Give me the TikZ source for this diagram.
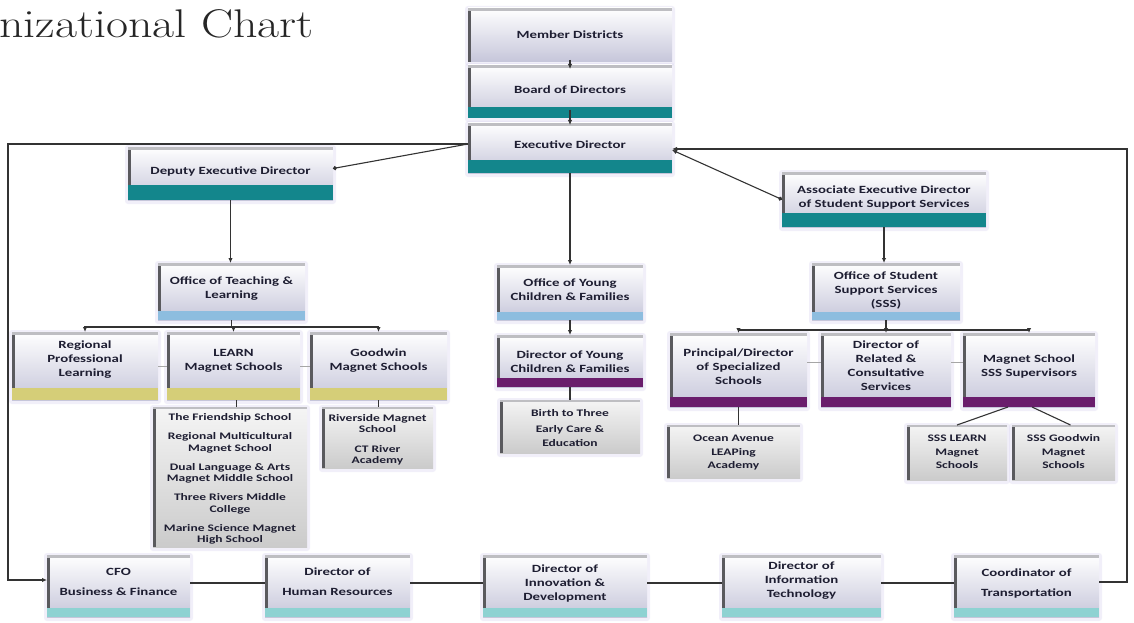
\documentclass[tikz,border=0pt]{standalone}
\usepackage{fontspec}
\usepackage{graphicx}
\usetikzlibrary{arrows.meta,calc}
\newfontfamily\bx{Carlito}[FakeStretch=1.35]
\definecolor{tealbar}{HTML}{13868C}
\definecolor{bluebar}{HTML}{8DBDDF}
\definecolor{yelbar}{HTML}{D5CE78}
\definecolor{purbar}{HTML}{6A1D6C}
\definecolor{ltteal}{HTML}{8ED2D2}
\definecolor{lavgray}{HTML}{C6C6DA}
\definecolor{edgedark}{HTML}{5A5A5E}
\definecolor{edgetop}{HTML}{BEBEC2}
\definecolor{txtcol}{HTML}{1E1E32}
\definecolor{linecol}{HTML}{333333}
\definecolor{glowcol}{HTML}{D8D4F0}
\definecolor{listbot}{HTML}{CBCBCB}
\tikzset{
 obox/.style={inner sep=0pt, outer sep=0pt, top color=white, middle color=white!75!lavgray, bottom color=lavgray},
 lbox/.style={inner sep=0pt, outer sep=0pt, top color=white!96!black, bottom color=listbot},
 otext/.style={font=\bx\bfseries\fontsize{11}{14}\selectfont, align=center, text=txtcol, inner sep=0pt},
 ltext/.style={font=\bx\bfseries\fontsize{10}{11.5}\selectfont, align=center, text=txtcol, inner sep=0pt},
 ltextb/.style={font=\bx\bfseries\fontsize{10}{13.5}\selectfont, align=center, text=txtcol, inner sep=0pt},
 glow/.style={fill=glowcol, opacity=0.35, rounded corners=3pt},
 conn/.style={draw=linecol, line width=1.1pt},
 arr/.style={conn, -{Latex[length=5pt,width=4.5pt]}},
 stub/.style={draw=gray!70, line width=0.8pt},
}
% name, x1, y1, x2, y2, bar colour, bar height, text y, text
\newcommand\orgbox[9]{%
  \fill[glow] ({#2-3},{#3-2}) rectangle ({#4+3},{#5+4});
  \node[obox, minimum width={(#4)-(#2)}, minimum height={(#5)-(#3)}] (#1) at ({((#2)+(#4))/2},{((#3)+(#5))/2}) {};
  \fill[edgedark] (#1.north west) rectangle ([xshift=3pt]#1.south west);
  \fill[edgetop] (#1.north west) rectangle ([yshift=-3pt]#1.north east);
  \fill[#6] (#1.south west) rectangle ([yshift=#7pt]#1.south east);
  \node[otext] (#1-t) at ({((#2)+(#4))/2},#8) {#9};
}
% name, x1, y1, x2, y2, text style, text y, text
\newcommand\listbox[8]{%
  \fill[glow] ({#2-3},{#3-2}) rectangle ({#4+3},{#5+4});
  \node[lbox, minimum width={(#4)-(#2)}, minimum height={(#5)-(#3)}] (#1) at ({((#2)+(#4))/2},{((#3)+(#5))/2}) {};
  \fill[edgedark] (#1.north west) rectangle ([xshift=3pt]#1.south west);
  \fill[edgetop] (#1.north west) rectangle ([yshift=-2pt]#1.north east);
  \node[#6] (#1-t) at ({((#2)+(#4))/2},#7) {#8};
}
\begin{document}
\begin{tikzpicture}[x=1pt,y=-1pt]
\useasboundingbox (0,0) rectangle (1134,623);
\fill[white] (0,0) rectangle (1134,623);

\node[anchor=base west, inner sep=0pt, font=\fontsize{40}{44}\selectfont, text=black!85] (title) at (-1,38) {\scalebox{1.2}[1]{nizational Chart}};

\orgbox{md}{468}{8}{672}{62}{white}{0}{35}{Member Districts}
\orgbox{bod}{468}{65}{672}{118}{tealbar}{11}{90}{Board of Directors}
\orgbox{ed}{468}{123}{672}{173}{tealbar}{13}{145}{Executive Director}
\orgbox{dep}{128}{147}{333}{200}{tealbar}{15}{171}{Deputy Executive Director}
\orgbox{assoc}{782}{172}{986}{227}{tealbar}{14}{197}{Associate Executive Director\\of Student Support Services}
\orgbox{otl}{158}{263}{305}{320}{bluebar}{9}{289}{Office of Teaching \&\\Learning}
\orgbox{oyc}{497}{265}{643}{320}{bluebar}{8}{290}{Office of Young\\Children \& Families}
\orgbox{osss}{812}{263}{960}{320}{bluebar}{8}{290}{Office of Student\\Support Services\\(SSS)}
\orgbox{rpl}{12}{332}{158}{400}{yelbar}{12}{360}{Regional\\Professional\\Learning}
\orgbox{learn}{167}{332}{300}{400}{yelbar}{12}{361}{LEARN\\Magnet Schools}
\orgbox{gw}{310}{332}{447}{400}{yelbar}{12}{361}{Goodwin\\Magnet Schools}
\orgbox{dyc}{497}{335}{643}{387}{purbar}{9}{362}{Director of Young\\Children \& Families}
\orgbox{pds}{670}{333}{807}{407}{purbar}{10}{367}{Principal/Director\\of Specialized\\Schools}
\orgbox{rcs}{821}{333}{951}{407}{purbar}{10}{366}{Director of\\Related \&\\Consultative\\Services}
\orgbox{mss}{963}{333}{1095}{407}{purbar}{10}{367}{Magnet School\\SSS Supervisors}

\listbox{llist}{153}{407}{307}{547}{ltext}{479}{The Friendship School\\[7.5pt]Regional Multicultural\\Magnet School\\[7.5pt]Dual Language \& Arts\\Magnet Middle School\\[7.5pt]Three Rivers Middle\\College\\[7.5pt]Marine Science Magnet\\High School}
\listbox{glist}{322}{407}{433}{468}{ltext}{440}{Riverside Magnet\\School\\[8pt]CT River\\Academy}
\listbox{b3}{500}{400}{640}{453}{ltextb}{428}{Birth to Three\\[3pt]Early Care \&\\Education}
\listbox{oa}{667}{425}{800}{478}{ltextb}{453}{Ocean Avenue\\LEAPing\\Academy}
\listbox{sl}{907}{425}{1007}{480}{ltextb}{452}{SSS LEARN\\Magnet\\Schools}
\listbox{sg}{1012}{425}{1115}{480}{ltextb}{452}{SSS Goodwin\\Magnet\\Schools}

\orgbox{cfo}{47}{555}{190}{617}{ltteal}{9}{582}{CFO\\[6pt]Business \& Finance}
\orgbox{hr}{265}{555}{410}{617}{ltteal}{9}{582}{Director of\\[6pt]Human Resources}
\orgbox{idv}{483}{555}{647}{617}{ltteal}{9}{583}{Director of\\Innovation \&\\Development}
\orgbox{it}{722}{555}{881}{617}{ltteal}{9}{581}{Director of\\Information\\Technology}
\orgbox{tr}{954}{555}{1099}{617}{ltteal}{9}{583}{Coordinator of\\[6pt]Transportation}

% connectors
\coordinate (lcorner) at (8,580);
\coordinate (rcorner) at (1127,582);
\coordinate (tb) at (231.5,327);
\coordinate (sb) at (886,330);

\draw[arr] ([yshift=2pt]md.south) -- ([yshift=-4pt]bod.north);
\draw[arr] ([yshift=8pt]bod.south) -- ([yshift=-2pt]ed.north);
\draw[arr] (ed.south) -- (oyc.north);
\draw[conn,-{Circle[length=4pt]}] ([yshift=4pt]ed.west) -- ([yshift=5pt]dep.east);
\draw[arr] ([yshift=4pt]ed.west) -| (lcorner) -- ([yshift=6pt]cfo.west);
\draw[arr] ([yshift=4pt]tr.east) -- (rcorner) |- ([yshift=-1pt]ed.east);
\draw[conn,{Circle[length=4pt]}-{Latex[length=5pt,width=4.5pt]}] (assoc.west) -- ([yshift=-2pt]ed.east);

\draw[arr] (dep.south) -- (dep.south |- otl.north);
\draw[arr] (assoc.south) -- (assoc.south |- osss.north);

\draw[conn] (otl.south) -- (tb);
\draw[arr] (tb) -| (rpl.north);
\draw[arr] (tb) -| (gw.north);
\draw[arr] (tb -| learn.north) -- (learn.north);

\draw[conn] (osss.south) -- (sb);
\draw[arr] (sb) -| (pds.north);
\draw[arr] (sb) -| (mss.north);
\draw[arr] (sb -| rcs.north) -- (rcs.north);

\draw[arr] (oyc.south) -- (dyc.north);
\draw[conn] (dyc.south) -- (b3.north);
\draw[conn] ([xshift=3pt]learn.south) -- ([xshift=3pt]learn.south |- llist.north);
\draw[conn] (gw.south) -- (gw.south |- glist.north);
\draw[conn] (pds.south) -- (pds.south |- oa.north);
\draw[conn] ([xshift=-21pt]mss.south) -- (sl.north);
\draw[conn] ([xshift=3pt]mss.south) -- ([xshift=7pt]sg.north);

\draw[stub] (rpl.east) -- (learn.west);
\draw[stub] (learn.east) -- (gw.west);
\draw[stub] ([yshift=8pt]pds.east) -- ([yshift=8pt]rcs.west);
\draw[stub] ([yshift=8pt]rcs.east) -- ([yshift=8pt]mss.west);

\draw[conn] ([yshift=3pt]cfo.east) -- ([yshift=3pt]hr.west);
\draw[conn] ([yshift=3pt]hr.east) -- ([yshift=3pt]idv.west);
\draw[conn] ([yshift=3pt]idv.east) -- ([yshift=3pt]it.west);
\draw[conn] ([yshift=3pt]it.east) -- ([yshift=3pt]tr.west);
\end{tikzpicture}
\end{document}
